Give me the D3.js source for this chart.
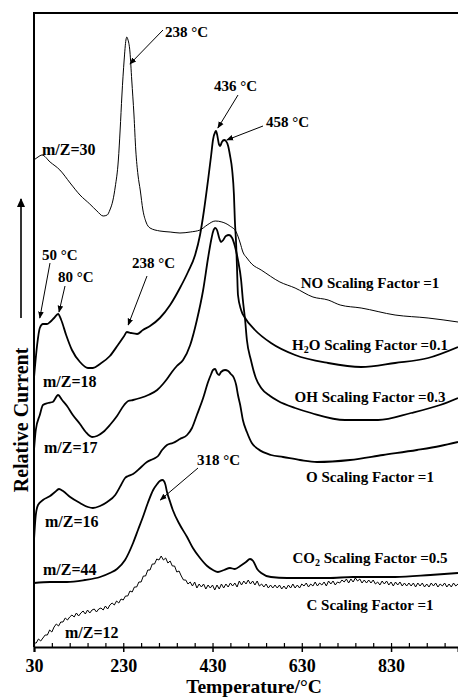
<!DOCTYPE html>
<html>
<head>
<meta charset="utf-8">
<script src="https://cdn.jsdelivr.net/npm/d3@7/dist/d3.min.js"></script>
<style>
  html, body { margin: 0; padding: 0; background: #fff; }
  svg { display: block; }
  text { font-family: "Liberation Serif", "Times New Roman", serif; font-weight: bold; fill: #000; }
</style>
</head>
<body>
<svg id="chart" width="458" height="697"></svg>
<script>
// ---------- DATA (temperature °C, relative current a.u.) ----------
const majorTicks = [30, 230, 430, 630, 830];
const xLabel = "Temperature/°C";
const yLabel = "Relative Current";

const seriesNO = [[30,4.87],[39,4.90],[48,4.92],[66,4.85],[88,4.77],[111,4.64],[133,4.52],[155,4.43],[171,4.36],[185,4.31],[194,4.32],[200,4.37],[207,4.47],[212,4.60],[219,4.87],[223,5.17],[227,5.52],[232,5.87],[236,6.07],[238,6.10],[240,6.08],[245,5.95],[249,5.67],[254,5.32],[258,4.97],[263,4.72],[268,4.57],[274,4.37],[281,4.25],[290,4.19],[312,4.16],[335,4.15],[357,4.14],[380,4.15],[402,4.17],[418,4.22],[436,4.26],[451,4.25],[469,4.21],[483,4.15],[492,4.04],[498,3.95],[507,3.89],[518,3.83],[539,3.77],[581,3.65],[615,3.59],[655,3.50],[689,3.47],[716,3.42],[763,3.39],[839,3.32],[913,3.29],[980,3.25]];

const seriesH2O = [[30,2.69],[37,3.02],[43,3.19],[50,3.23],[59,3.23],[66,3.25],[75,3.29],[84,3.33],[91,3.27],[102,3.12],[115,2.97],[133,2.85],[151,2.79],[162,2.79],[178,2.83],[200,2.91],[218,3.02],[232,3.11],[238,3.15],[247,3.14],[261,3.13],[274,3.17],[290,3.21],[312,3.29],[335,3.42],[357,3.59],[375,3.75],[391,3.92],[402,4.12],[411,4.37],[420,4.67],[427,4.92],[431,5.07],[436,5.15],[438,5.16],[440,5.13],[445,5.02],[447,5.01],[451,5.05],[456,5.07],[460,5.06],[465,5.01],[469,4.92],[474,4.77],[478,4.52],[480,4.27],[483,4.02],[485,3.77],[487,3.52],[494,3.37],[503,3.29],[525,3.17],[561,3.04],[615,2.92],[689,2.84],[763,2.80],[839,2.84],[913,2.89],[980,3.00]];

const seriesOH = [[30,1.97],[34,2.17],[43,2.32],[50,2.42],[61,2.44],[72,2.45],[84,2.52],[93,2.47],[104,2.41],[117,2.32],[133,2.23],[146,2.15],[160,2.10],[171,2.11],[185,2.15],[200,2.22],[216,2.31],[232,2.42],[241,2.46],[252,2.47],[268,2.49],[286,2.52],[306,2.57],[319,2.63],[328,2.68],[339,2.75],[350,2.81],[364,2.87],[380,3.02],[395,3.27],[409,3.57],[420,3.89],[427,4.07],[431,4.15],[436,4.19],[440,4.17],[445,4.09],[449,4.05],[454,4.07],[460,4.11],[467,4.12],[474,4.09],[480,4.01],[487,3.87],[494,3.67],[498,3.47],[503,3.27],[507,3.07],[516,2.87],[527,2.69],[539,2.59],[559,2.51],[577,2.46],[615,2.39],[651,2.34],[727,2.27],[801,2.27],[875,2.34],[940,2.42],[980,2.49]];

const seriesO = [[30,1.07],[34,1.32],[39,1.42],[50,1.47],[66,1.51],[77,1.55],[86,1.58],[95,1.56],[111,1.50],[133,1.44],[151,1.40],[162,1.39],[178,1.41],[194,1.45],[212,1.52],[225,1.62],[234,1.69],[241,1.71],[252,1.73],[268,1.79],[283,1.85],[297,1.88],[308,1.91],[317,1.97],[328,2.02],[341,2.04],[357,2.08],[373,2.12],[384,2.19],[395,2.32],[409,2.49],[420,2.65],[427,2.73],[431,2.77],[436,2.78],[440,2.74],[445,2.72],[449,2.75],[458,2.77],[465,2.76],[471,2.73],[478,2.69],[483,2.62],[487,2.52],[492,2.42],[498,2.27],[507,2.15],[518,2.04],[532,1.98],[561,1.92],[588,1.90],[626,1.87],[664,1.85],[738,1.87],[812,1.92],[888,1.97],[940,2.01],[980,2.05]];

const seriesCO2 = [[30,0.64],[66,0.65],[104,0.65],[144,0.67],[178,0.70],[200,0.74],[216,0.78],[234,0.87],[252,1.04],[263,1.17],[274,1.30],[285,1.44],[297,1.57],[306,1.63],[312,1.66],[318,1.67],[324,1.63],[328,1.55],[335,1.45],[341,1.37],[357,1.22],[373,1.10],[386,0.99],[402,0.89],[418,0.81],[431,0.77],[442,0.75],[456,0.77],[469,0.79],[480,0.78],[492,0.81],[505,0.85],[514,0.88],[521,0.86],[530,0.78],[539,0.74],[561,0.70],[597,0.69],[689,0.69],[745,0.70],[839,0.70],[918,0.72],[980,0.74]];

const seriesC = [[30,.04],[35,.04],[40,.08],[45,.06],[50,.09],[55,.12],[60,.12],[65,.17],[70,.15],[75,.20],[80,.23],[85,.21],[90,.25],[95,.25],[100,.29],[105,.27],[110,.30],[115,.32],[120,.30],[125,.34],[130,.31],[135,.34],[140,.36],[145,.33],[150,.37],[155,.34],[160,.37],[165,.38],[170,.35],[175,.38],[180,.39],[185,.37],[190,.41],[195,.38],[200,.42],[205,.44],[210,.42],[215,.46],[220,.44],[225,.48],[230,.47],[235,.51],[240,.51],[245,.56],[250,.55],[255,.60],[260,.60],[265,.65],[270,.65],[275,.71],[280,.71],[285,.77],[290,.77],[295,.83],[300,.83],[305,.88],[310,.87],[315,.91],[320,.87],[325,.89],[330,.84],[335,.86],[340,.81],[345,.81],[350,.75],[355,.76],[360,.71],[365,.67],[370,.67],[375,.63],[380,.65],[385,.61],[390,.65],[395,.59],[400,.63],[405,.60],[410,.63],[415,.58],[420,.62],[425,.59],[430,.62],[435,.57],[440,.62],[445,.58],[450,.63],[455,.59],[460,.63],[465,.60],[470,.64],[475,.61],[480,.64],[485,.60],[490,.66],[495,.62],[500,.66],[505,.63],[510,.67],[515,.63],[520,.66],[525,.62],[530,.66],[535,.61],[540,.63],[545,.60],[550,.63],[555,.59],[560,.62],[565,.59],[570,.62],[575,.59],[580,.62],[585,.58],[590,.61],[595,.58],[600,.62],[605,.59],[610,.63],[615,.59],[620,.62],[625,.59],[630,.63],[635,.61],[640,.64],[645,.60],[650,.63],[655,.61],[660,.65],[665,.61],[670,.64],[675,.62],[680,.65],[685,.61],[690,.66],[695,.63],[700,.66],[705,.62],[710,.65],[715,.64],[720,.67],[725,.65],[730,.68],[735,.64],[740,.68],[745,.65],[750,.69],[755,.66],[760,.68],[765,.64],[770,.67],[775,.64],[780,.67],[785,.64],[790,.67],[795,.63],[800,.65],[805,.62],[810,.66],[815,.63],[820,.66],[825,.62],[830,.65],[835,.61],[840,.65],[845,.62],[850,.65],[855,.61],[860,.64],[865,.61],[870,.64],[875,.61],[880,.64],[885,.60],[890,.64],[895,.61],[900,.64],[905,.60],[910,.63],[915,.60],[920,.64],[925,.61],[930,.64],[935,.60],[940,.63],[945,.61],[950,.64],[955,.60],[960,.63],[965,.60],[970,.64],[975,.61],[980,.63]];

const massLabels = ["m/Z=30", "m/Z=18", "m/Z=17", "m/Z=16", "m/Z=44", "m/Z=12"];
const factorSpecies = ["NO", "H|2|O", "OH", "O", "CO|2|", "C"];
const factorValues = ["1", "0.1", "0.3", "1", "0.5", "1"];
const peakLabels = ["238 °C", "436 °C", "458 °C", "50 °C", "80 °C", "238 °C", "318 °C"];
// arrow tips in data coordinates (°C, a.u.)
const peakTips = [[245, 5.83], [442, 5.19], [462, 5.07], [43, 3.29], [86, 3.35], [241, 3.22], [313, 1.47]];

// ---------- LAYOUT ----------
const svg = d3.select("#chart");
const L = 34, T = 13, B = 647, R = 458;
const x = d3.scaleLinear().domain([30, 980]).range([L, R]);
const y = d3.scaleLinear().domain([0, 6.34]).range([B, T]);

const defs = svg.append("defs");
defs.append("clipPath").attr("id", "plotclip")
  .append("rect").attr("x", L).attr("y", T).attr("width", R - L + 5).attr("height", B - T);
defs.append("marker").attr("id", "ah")
  .attr("viewBox", "0 0 10 10").attr("refX", 9).attr("refY", 5)
  .attr("markerWidth", 7).attr("markerHeight", 7).attr("markerUnits", "userSpaceOnUse")
  .attr("orient", "auto")
  .append("path").attr("d", "M0,1 L10,5 L0,9 Z").attr("fill", "#000");
defs.append("marker").attr("id", "ah2")
  .attr("viewBox", "0 0 10 10").attr("refX", 9).attr("refY", 5)
  .attr("markerWidth", 9).attr("markerHeight", 9).attr("markerUnits", "userSpaceOnUse")
  .attr("orient", "auto")
  .append("path").attr("d", "M0,0.5 L10,5 L0,9.5 Z").attr("fill", "#000");

// curves
const smooth = d3.line().x(d => x(d[0])).y(d => y(d[1])).curve(d3.curveMonotoneX);
const raw = d3.line().x(d => x(d[0])).y(d => y(d[1]));
const g = svg.append("g").attr("clip-path", "url(#plotclip)");
const curves = [
  {d: seriesNO, w: 1.0, gen: smooth},
  {d: seriesH2O, w: 1.8, gen: smooth},
  {d: seriesOH, w: 1.8, gen: smooth},
  {d: seriesO, w: 1.8, gen: smooth},
  {d: seriesCO2, w: 1.8, gen: smooth},
  {d: seriesC, w: 1.0, gen: raw}
];
curves.forEach(c => {
  g.append("path").datum(c.d).attr("d", c.gen).attr("fill", "none")
    .attr("stroke", "#000").attr("stroke-width", c.w).attr("stroke-linejoin", "round");
});

// frame / axes
svg.append("line").attr("x1", L).attr("x2", R + 5).attr("y1", T).attr("y2", T)
  .attr("stroke", "#000").attr("stroke-width", 2);
svg.append("line").attr("x1", L).attr("x2", L).attr("y1", T - 1).attr("y2", B)
  .attr("stroke", "#000").attr("stroke-width", 2);

const xAxis = svg.append("g").attr("transform", `translate(0,${B})`)
  .call(d3.axisBottom(x).tickValues(majorTicks).tickSize(5).tickPadding(7).tickFormat(d3.format("d")));
xAxis.select(".domain").attr("stroke-width", 2);
xAxis.selectAll(".tick line").attr("stroke-width", 1.5);
xAxis.selectAll("text").style("font-size", "18px").style("font-family", "Liberation Serif").style("font-weight", "bold");
const minorAxis = svg.append("g").attr("transform", `translate(0,${B})`)
  .call(d3.axisTop(x).tickValues(d3.range(30, 981, 40)).tickSize(4).tickFormat(""));
minorAxis.select(".domain").remove();
minorAxis.selectAll(".tick line").attr("stroke-width", 1.2);

svg.append("text").attr("x", 254).attr("y", 693).attr("text-anchor", "middle")
  .style("font-size", "19.5px").text(xLabel);
svg.append("text").attr("transform", "translate(28,420) rotate(-90)").attr("text-anchor", "middle")
  .style("font-size", "20px").text(yLabel);
svg.append("line").attr("x1", 21).attr("x2", 21).attr("y1", 318).attr("y2", 199)
  .attr("stroke", "#000").attr("stroke-width", 1.6).attr("marker-end", "url(#ah2)");

// left labels (m/Z)
const massPos = [[42,155],[43,387],[44,453],[45,527],[43,575],[65,638]];
massLabels.forEach((t, i) => {
  svg.append("text").attr("x", massPos[i][0]).attr("y", massPos[i][1])
    .style("font-size", "16px").text(t);
});

// right labels (scaling factors)
const factorY = [288, 350, 402, 482, 563, 610];
factorSpecies.forEach((sp, i) => {
  const t = svg.append("text").attr("x", 370).attr("y", factorY[i]).attr("text-anchor", "middle")
    .style("font-size", "15px");
  const parts = sp.split("|");
  let shifted = false;
  parts.forEach((p, j) => {
    if (j === 1) {
      t.append("tspan").attr("dy", 3).style("font-size", "10px").text(p);
      shifted = true;
    } else if (p !== "") {
      t.append("tspan").attr("dy", shifted ? -3 : 0).text(p);
      shifted = false;
    }
  });
  t.append("tspan").attr("dy", shifted ? -3 : 0).text(" Scaling Factor =" + factorValues[i]);
});

// peak annotations
const annoText = [[165,37],[214,91],[266,127],[42,260],[58,282],[132,268],[197,465]];
const annoFrom = [[163,30],[238,95],[263,126],[50,263],[65,286],[147,276],[198,468]];
peakLabels.forEach((t, i) => {
  svg.append("text").attr("x", annoText[i][0]).attr("y", annoText[i][1])
    .style("font-size", "15px").text(t);
  svg.append("line").attr("x1", annoFrom[i][0]).attr("y1", annoFrom[i][1])
    .attr("x2", x(peakTips[i][0])).attr("y2", y(peakTips[i][1]))
    .attr("stroke", "#000").attr("stroke-width", 1).attr("marker-end", "url(#ah)");
});
</script>
</body>
</html>
